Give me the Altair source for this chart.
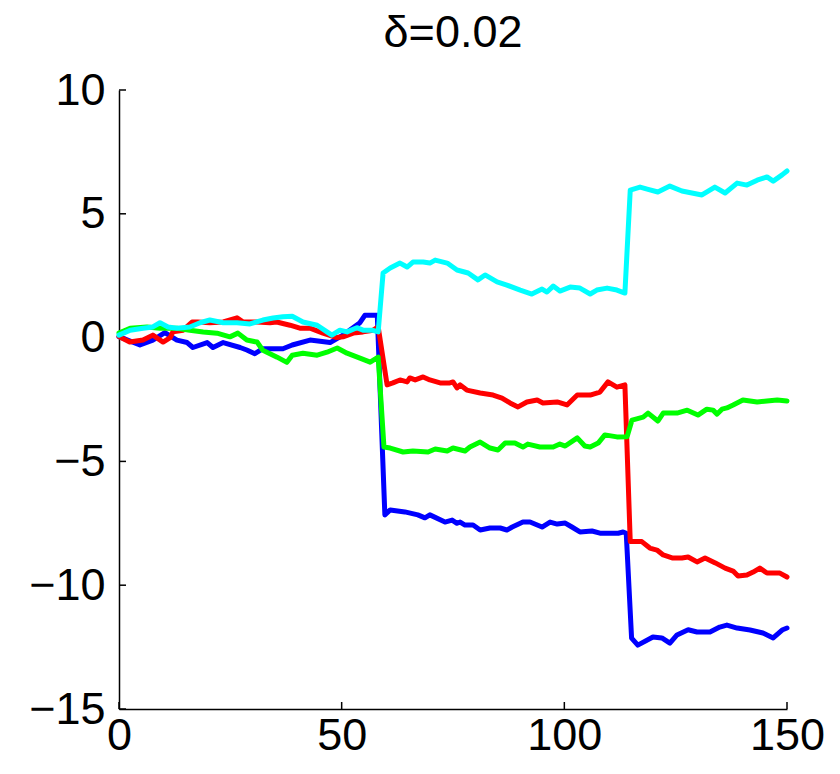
import altair as alt
import pandas as pd

# ---- data ----
blue_x = [0, 4.7, 7.6, 10.3, 13, 15.3, 16.6, 19.8, 21.1, 23.4, 27.2, 28.7, 30.5, 32.3, 36.8, 38.9, 42.9, 47.4,
          50.3, 54.1, 55.2, 58, 59.7, 60.9, 64.2, 67.1, 68.7, 69.8, 73.2, 74.8, 75.9, 76.6, 77.7, 79.5, 81.1,
          83.3, 85.6, 87.1, 88.3, 90.7, 92.3, 95, 96.8, 98.4, 100.2, 101.7, 103.5, 106.2, 108, 112.1, 113.2,
          113.9, 115.1, 116.5, 119.9, 121.9, 123.7, 125.3, 127.8, 129.8, 132.7, 134.9, 136.5, 138.8, 141.7,
          144.6, 146.9, 148.9, 150]
blue_y = [0.04, -0.3, -0.1, 0.2, -0.1, -0.2, -0.4, -0.2, -0.4, -0.2, -0.4, -0.5, -0.65, -0.45, -0.45, -0.3,
          -0.1, -0.2, 0.1, 0.6, 0.9, 0.9, -7.16, -6.96, -7.04, -7.16, -7.28, -7.16, -7.45, -7.37, -7.5, -7.45,
          -7.57, -7.57, -7.77, -7.69, -7.69, -7.77, -7.65, -7.45, -7.45, -7.65, -7.45, -7.53, -7.49, -7.65,
          -7.85, -7.81, -7.9, -7.9, -7.85, -7.9, -12.14, -12.42, -12.09, -12.13, -12.34, -12.01, -11.8,
          -11.89, -11.89, -11.69, -11.61, -11.73, -11.81, -11.93, -12.13, -11.81, -11.73]

red_x = [0, 2.4, 5.4, 7.6, 9.9, 11.5, 12.1, 14.4, 16.4, 17.7, 20.4, 23.4, 26.5, 27.9, 31, 33.9, 35.4, 38.4,
         40.6, 42.9, 45.8, 48.9, 50.3, 52.6, 54.8, 57.1, 58.2,
         60.2, 61.5, 63.1, 64.7, 65.3, 66.5, 68.3, 69.8, 72.1, 74.3, 75, 75.9, 76.6, 78.1, 81.1, 84, 86,
         87.8, 89.6, 91.6, 93.9, 95.2, 98.4, 100.6, 102.9, 105.8, 108, 109.8, 111.8, 113.6,
         114.8, 117.4, 119.2, 120.8, 122.2, 124.2, 126.4, 127.8, 129.8, 131.6, 133.9, 136.1, 137.9, 139,
         141, 142.4, 143.9, 145.5, 148.4, 150]
red_y = [0.04, -0.18, -0.1, 0.1, -0.18, 0, 0.23, 0.3, 0.63, 0.63, 0.6, 0.63, 0.8, 0.63, 0.63, 0.6, 0.63,
         0.5, 0.38, 0.38, 0.18, 0, 0.03, 0.18, 0.23, 0.3, 0.43,
         -1.91, -1.83, -1.71, -1.79, -1.63, -1.71, -1.59, -1.71, -1.83, -1.83, -1.79, -2.03, -1.91, -2.12,
         -2.24, -2.32, -2.44, -2.64, -2.8, -2.6, -2.52, -2.64, -2.6, -2.72, -2.32, -2.32, -2.2, -1.79,
         -2.0, -1.91,
         -8.24, -8.24, -8.5, -8.58, -8.78, -8.9, -8.9, -8.86, -9.06, -8.9, -9.1, -9.31, -9.43, -9.63,
         -9.59, -9.47, -9.31, -9.51, -9.51, -9.67]

green_x = [0, 2.5, 6.3, 9.2, 13, 15.9, 18.9, 22, 24.9, 26.7, 28.7, 31, 32.3, 35.5, 37.7, 38.9, 41.3, 44.5,
           46.7, 49, 51.2, 54.1, 56.4, 58.2,
           59.5, 60.9, 63.8, 66, 69.4, 71, 73.7, 75, 77.7, 78.8, 81.1, 83.3, 85.1, 86.7, 88.9, 90.7, 91.8,
           94.5, 97.5, 99, 100.2, 102.9, 104.6, 105.8, 107.6, 109.1, 111.8, 114.1,
           115.2, 117.7, 118.8, 121, 122.2, 125.3, 127.6, 130, 132, 133.4, 134.3, 135.4, 136.5, 137.9,
           140.1, 143.3, 145.5, 147.8, 150]
green_y = [0.18, 0.38, 0.43, 0.38, 0.38, 0.3, 0.23, 0.18, 0.03, 0.18, -0.1, -0.18, -0.51, -0.79, -1.0,
           -0.71, -0.63, -0.71, -0.59, -0.42, -0.63, -0.83, -0.99, -0.79,
           -4.42, -4.46, -4.62, -4.58, -4.62, -4.5, -4.58, -4.46, -4.58, -4.42, -4.22, -4.46, -4.54, -4.26,
           -4.26, -4.42, -4.3, -4.42, -4.42, -4.3, -4.38, -4.05, -4.38, -4.42, -4.26, -3.93, -4.01, -4.0,
           -3.33, -3.21, -3.05, -3.37, -3.05, -3.05, -2.93, -3.13, -2.89, -2.93, -3.09, -2.89, -2.84,
           -2.72, -2.52, -2.6, -2.56, -2.52, -2.56]

cyan_x = [0, 2.5, 5.4, 7.6, 9.2, 11, 13, 15.9, 18.2, 20.4, 23.4, 26.5, 29.4, 32.3, 34.6, 36.8, 38.9, 41.3,
          44.5, 46.7, 47.8, 49.6, 51.2, 53.4, 54.8, 56.8, 58.2,
          59.3, 60.9, 63.1, 64.7, 66, 68.3, 69.8, 71, 73.7, 75.9, 78.4, 80.6, 82.2, 84.9, 87.1, 90.1, 92.7,
          95, 96.1, 97.5, 99, 101.3, 103.5, 105.8, 107.3, 109.6, 111.8, 113.6,
          114.8, 117, 118.6, 121, 123.7, 126.4, 130.9, 133.8, 136.1, 138.8, 141, 143.3, 145.5, 146.9,
          148.9, 150]
cyan_y = [0.1, 0.3, 0.38, 0.43, 0.6, 0.43, 0.38, 0.43, 0.6, 0.71, 0.6, 0.6, 0.55, 0.71, 0.79, 0.84, 0.86,
          0.63, 0.5, 0.23, 0.1, 0.3, 0.23, 0.4, 0.3, 0.3, 0.23,
          2.61, 2.81, 3.01, 2.85, 3.05, 3.05, 3.01, 3.13, 3.01, 2.73, 2.61, 2.33, 2.53, 2.25, 2.12, 1.92,
          1.76, 1.96, 1.84, 2.08, 1.88, 2.04, 2.0, 1.76, 1.92, 2.0, 1.92, 1.8,
          5.96, 6.08, 6.0, 5.88, 6.12, 5.92, 5.76, 6.08, 5.84, 6.24, 6.16, 6.36, 6.49, 6.32, 6.57, 6.73]

x_ticks = [0, 50, 100, 150]
y_ticks = [-15, -10, -5, 0, 5, 10]
title_text = "δ=0.02"

# ---- chart ----
W, H = 668, 619
FONT = "Liberation Sans"
FS = 45

xs = alt.Scale(domain=[0, 150], nice=False, zero=False)
ys = alt.Scale(domain=[-15, 10], nice=False, zero=False)

x_axis = alt.Axis(values=x_ticks, ticks=False, tickSize=0, grid=False, title=None,
                  labelFontSize=FS, labelFont=FONT, labelColor="black", labelPadding=4,
                  domainColor="black", domainWidth=1.5, labelFlush=False, labelOverlap=False)
y_axis = alt.Axis(values=y_ticks, ticks=False, tickSize=0, grid=False, title=None,
                  labelFontSize=FS, labelFont=FONT, labelColor="black", labelPadding=14,
                  domainColor="black", domainWidth=1.5, labelFlush=False, labelOverlap=False,
                  labelExpr="replace(datum.label, '-', '\u2212')")

xt = pd.DataFrame({"v": x_ticks})
yt = pd.DataFrame({"v": y_ticks})

base_x = alt.Chart(xt).mark_rule(color="black", strokeWidth=1.5).encode(
    x=alt.X("v:Q", scale=xs, axis=x_axis), y=alt.value(H), y2=alt.value(H - 7))
base_y = alt.Chart(yt).mark_rule(color="black", strokeWidth=1.5).encode(
    y=alt.Y("v:Q", scale=ys, axis=y_axis), x=alt.value(0), x2=alt.value(7))

layers = [base_x, base_y]
for xv, yv, col in [(blue_x, blue_y, "#0000ff"), (red_x, red_y, "#ff0000"),
                    (green_x, green_y, "#00ff00"), (cyan_x, cyan_y, "#00ffff")]:
    df = pd.DataFrame({"x": xv, "y": yv})
    layers.append(alt.Chart(df).mark_line(color=col, strokeWidth=5, strokeJoin="round",
                                          strokeCap="round").encode(
        x=alt.X("x:Q", scale=xs, axis=x_axis), y=alt.Y("y:Q", scale=ys, axis=y_axis)))

title_layer = alt.Chart(pd.DataFrame({"t": [title_text]})).mark_text(
    fontSize=FS, font=FONT, baseline="alphabetic", align="center", color="black").encode(
    text="t:N", x=alt.datum(75, scale=xs, axis=x_axis), y=alt.value(-43))
layers.append(title_layer)

chart = alt.layer(*layers).properties(
    width=W, height=H,
    autosize=alt.AutoSizeParams(type="none"),
    padding={"left": 111, "top": 82, "right": 45, "bottom": 57},
).configure(background="white").configure_view(stroke=None)

chart.save("out.html", embed_options={"renderer": "svg", "actions": False})
